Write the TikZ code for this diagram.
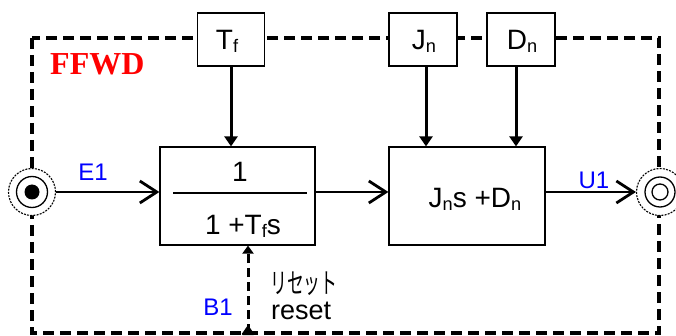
\documentclass[tikz,border=0pt]{standalone}
\usepackage{fontspec}
\setmainfont{Liberation Sans}
\newfontfamily\jpfont{Noto Sans CJK JP}
\newfontfamily\ffwdfont{Liberation Serif}
\usetikzlibrary{arrows.meta}
\newcommand\lowsub[1]{\raisebox{-0.1em}{\scalebox{0.65}{#1}}}
\begin{document}
\begin{tikzpicture}[x=1pt,y=-1pt,
  box/.style={draw, line width=1.2pt, fill=white, inner sep=0pt},
  border/.style={line width=4.5pt, dash pattern=on 11pt off 6pt},
  sig/.style={line width=2.5pt, -{Straight Barb[length=17pt,width=22pt,line width=2.8pt]}},
  parr/.style={line width=3pt, -{Triangle[length=10pt,width=13pt]}},
  lbl/.style={text=blue, font=\fontsize{24}{24}\selectfont, inner sep=0pt, anchor=base},
  btxt/.style={font=\fontsize{28}{28}\selectfont, inner sep=0pt, anchor=base},
  term/.style={circle, draw, dash pattern=on 2pt off 1.2pt, line width=1.1pt, fill=white, minimum size=47pt, inner sep=0pt}]
\useasboundingbox (0,0) rectangle (676,336);
% dashed FFWD frame
\draw[border] (32,38) rectangle (659,333);
\node[text=red, font=\ffwdfont\bfseries\fontsize{32}{32}\selectfont, inner sep=0pt, anchor=base west] (ffwd) at (50,75) {FFWD};
% terminals
\node[term] (in) at (32,192) {};
\draw[line width=1.3pt] (in.center) circle[radius=15.5];
\fill (in.center) circle[radius=7.5];
\node[term] (out) at (660,192) {};
\draw[line width=1.3pt] (out.center) circle[radius=15];
\draw[line width=1.3pt] (out.center) circle[radius=8];
% parameter boxes
\node[box, minimum width=67pt, minimum height=53pt] (Tf) at (231,39.5) {};
\node[btxt] (Tft) at (227,50) {T\lowsub{f}};
\node[box, minimum width=68pt, minimum height=53pt] (Jn) at (423,39.5) {};
\node[btxt] (Jnt) at (424,50) {J\lowsub{n}};
\node[box, minimum width=68pt, minimum height=53pt] (Dn) at (521,39.5) {};
\node[btxt] (Dnt) at (522,50) {D\lowsub{n}};
% block 1
\node[box, minimum width=155pt, minimum height=98pt] (B1) at (237.5,196) {};
\node[btxt] (num) at (240,182) {1};
\draw[line width=1.2pt] (173,193) -- (307,193);
\node[btxt] (den) at (243,235) {1 +T\lowsub{f}s};
% block 2
\node[box, minimum width=156pt, minimum height=98pt] (B2) at (467,196) {};
\node[btxt] (b2t) at (475,208) {J\lowsub{n}s +D\lowsub{n}};
% signal arrows
\draw[sig] (in.east) -- (in.east -| B1.west);
\draw[sig] (B1.east |- in.center) -- (B2.west |- in.center);
\draw[sig] (B2.east |- out.center) -- (out.west);
% parameter arrows
\draw[parr] (Tf.south) -- (Tf.south |- B1.north);
\draw[parr] ([xshift=3pt]Jn.south) -- ([xshift=3pt]Jn.south |- B2.north);
\draw[parr] ([xshift=-5pt]Dn.south) -- ([xshift=-5pt]Dn.south |- B2.north);
% reset
\coordinate (rb) at (248,333);
\draw[line width=3pt, dash pattern=on 9pt off 5pt, -{Triangle[length=8pt,width=11pt]}] (rb) -- (rb |- B1.south);
\fill[rounded corners=1.5pt] (rb) +(-7,2) -- +(7,2) -- +(0,-8) -- cycle;
% labels
\node[lbl] (e1) at (93,181) {E1};
\node[lbl] (u1) at (594,189) {U1};
\node[lbl] (b1) at (218,315) {B1};
\node[inner sep=0pt, anchor=base west, font=\jpfont\fontsize{28}{28}\selectfont] (rjp) at (270,293) {\scalebox{0.6}[1]{リセット}};
\node[inner sep=0pt, anchor=base west, font=\fontsize{27}{27}\selectfont] (ren) at (271,319) {reset};
\end{tikzpicture}
\end{document}
